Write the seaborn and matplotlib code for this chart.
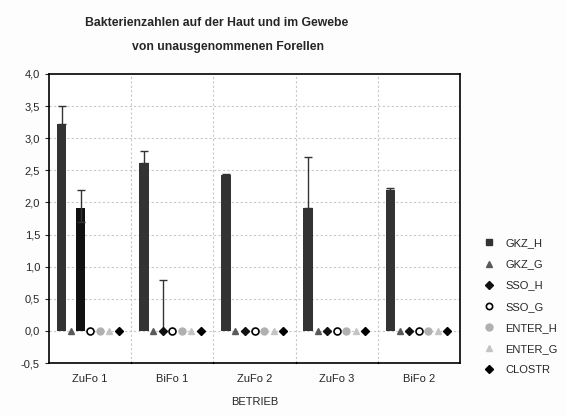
import matplotlib
matplotlib.use('Agg')

import numpy as np
import pandas as pd
import matplotlib.pyplot as plt
import seaborn as sns

# data
betriebe = ["ZuFo 1", "BiFo 1", "ZuFo 2", "ZuFo 3", "BiFo 2"]
serien = ["GKZ_H", "GKZ_G", "SSO_H", "SSO_G", "ENTER_H", "ENTER_G", "CLOSTR"]
gkz_h = [3.22, 2.62, 2.42, 1.92, 2.20]
gkz_g = [0, 0, 0, 0, 0]
sso_h = [1.92, 0, 0, 0, 0]
sso_g = [0, 0, 0, 0, 0]
enter_h = [0, 0, 0, 0, 0]
enter_g = [0, 0, 0, 0, 0]
clostr = [0, 0, 0, 0, 0]
gkz_h_err = [0.28, 0.18, 0.03, 0.78, 0.02]
sso_h_err_up = [0.28, 0.80, 0, 0, 0]
sso_h_err_low = [0.22, 0, 0, 0, 0]
yticks = [-0.5, 0.0, 0.5, 1.0, 1.5, 2.0, 2.5, 3.0, 3.5, 4.0]
ytick_labels = ["-0,5", "0,0", "0,5", "1,0", "1,5", "2,0", "2,5", "3,0", "3,5", "4,0"]

werte = [gkz_h, gkz_g, sso_h, sso_g, enter_h, enter_g, clostr]
df = pd.DataFrame({
    "BETRIEB": betriebe * len(serien),
    "Serie": np.repeat(serien, len(betriebe)),
    "Wert": np.concatenate(werte),
})

farben = {"GKZ_H": "#333333", "GKZ_G": "#5a5a5a", "SSO_H": "#111111", "SSO_G": "black",
          "ENTER_H": "#b0b0b0", "ENTER_G": "#c4c4c4", "CLOSTR": "black"}
marker = {"GKZ_H": "s", "GKZ_G": "^", "SSO_H": "D", "SSO_G": "o",
          "ENTER_H": "o", "ENTER_G": "^", "CLOSTR": "D"}

sns.set_style("white")
plt.rcParams['font.family'] = ['Liberation Sans Narrow', 'Liberation Sans', 'DejaVu Sans']

fig = plt.figure(figsize=(5.66, 4.16), dpi=100)
ax = fig.add_axes([0.0866, 0.1274, 0.7261, 0.6948])

sns.barplot(data=df, x="BETRIEB", y="Wert", hue="Serie", hue_order=serien,
            palette=farben, width=0.81, dodge=True, legend=False, ax=ax,
            saturation=1, linewidth=0)

# bar centers per series (patches come in hue order)
mitten = {}
for i, s in enumerate(serien):
    ps = ax.patches[i * len(betriebe):(i + 1) * len(betriebe)]
    mitten[s] = [p.get_x() + p.get_width() / 2 for p in ps]

# error bars
ax.errorbar(mitten["GKZ_H"], gkz_h, yerr=[[0] * 5, gkz_h_err], fmt="none",
            ecolor="#333333", elinewidth=1, capsize=3, capthick=1, zorder=3)
ax.errorbar(mitten["SSO_H"], sso_h, yerr=[sso_h_err_low, sso_h_err_up], fmt="none",
            ecolor="#333333", elinewidth=1, capsize=3, capthick=1, zorder=3)

# zero values as markers
for s, w in zip(serien, werte):
    for x, v in zip(mitten[s], w):
        if v == 0:
            if s == "SSO_G":
                ax.plot(x, v, marker="o", ms=5, mfc="white", mec="black", mew=1.2, zorder=4)
            else:
                ax.plot(x, v, marker=marker[s], ms=5 if marker[s] != "D" else 4,
                        color=farben[s], zorder=4)

ax.set_ylim(-0.5, 4.0)
ax.set_xlim(-0.5, 4.5)
ax.set_yticks(yticks)
ax.set_yticklabels(ytick_labels)
ax.set_xlabel("BETRIEB", fontsize=8, labelpad=9)
ax.set_ylabel("")
ax.tick_params(axis="both", labelsize=8, length=3, direction="out", left=True, bottom=True)
ax.tick_params(axis="x", length=0, pad=8)

# grid: dotted horizontals and group separators
for y in yticks[1:-1]:
    ax.axhline(y, color="#c8c8c8", lw=0.8, ls=(0, (2, 2)), zorder=0)
for x in np.arange(0.5, 4.5, 1.0):
    ax.axvline(x, color="#c8c8c8", lw=0.8, ls=(0, (2, 2)), zorder=0)
    ax.plot([x, x], [-0.5, -0.48], color="black", lw=1, clip_on=False)

for sp in ax.spines.values():
    sp.set_color("black")
    sp.set_linewidth(1.2)

# legend
handles = []
for s in serien:
    if s == "SSO_G":
        h = plt.Line2D([], [], ls="", marker="o", ms=4.5, mfc="white", mec="black", mew=1.2)
    else:
        h = plt.Line2D([], [], ls="", marker=marker[s], ms=5 if marker[s] != "D" else 4,
                       color=farben[s])
    handles.append(h)
fig.legend(handles, serien, loc="upper left", bbox_to_anchor=(0.845, 0.427),
           frameon=False, fontsize=8, labelspacing=1.0, handletextpad=0.45,
           borderpad=0, borderaxespad=0)

fig.text(0.382, 0.945, "Bakterienzahlen auf der Haut und im Gewebe",
         ha="center", va="center", fontsize=8.8, fontweight="bold")
fig.text(0.403, 0.887, "von unausgenommenen Forellen",
         ha="center", va="center", fontsize=8.8, fontweight="bold")

fig.patch.set_facecolor("#fdfdfd")
fig.savefig("out.png", dpi=100, facecolor=fig.get_facecolor())
